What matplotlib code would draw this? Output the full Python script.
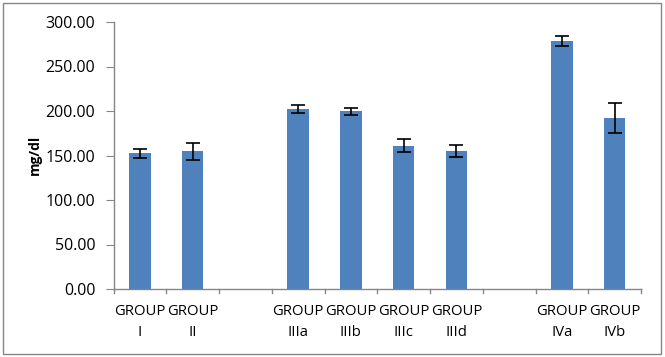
import matplotlib
matplotlib.use("Agg")
import matplotlib.pyplot as plt
from matplotlib.patches import Rectangle

categories = ["GROUP\nI", "GROUP\nII", "", "GROUP\nIIIa", "GROUP\nIIIb", "GROUP\nIIIc",
              "GROUP\nIIId", "", "GROUP\nIVa", "GROUP\nIVb"]
values = [152.5, 155.0, None, 202.2, 199.8, 160.7, 155.0, None, 278.7, 192.1]
errors = [5.3, 9.5, None, 5.0, 4.0, 7.3, 7.2, None, 5.6, 17.0]
yticks = [0, 50, 100, 150, 200, 250, 300]

W, H = 665, 357
fig = plt.figure(figsize=(W / 100, H / 100), dpi=100)
plt.rcParams['font.family'] = ['Open Sans', 'DejaVu Sans']

ax = fig.add_axes([113.5 / W, 1 - 289 / H, (641 - 113.5) / W, (289 - 22) / H])

xs = [i for i, v in enumerate(values) if v is not None]
vs = [values[i] for i in xs]
es = [errors[i] for i in xs]
ax.bar(xs, vs, width=0.41, color="#4F81BD", zorder=2)
ax.errorbar(xs, vs, yerr=es, fmt="none", ecolor="black", elinewidth=1.2,
            capsize=5, capthick=1.2, zorder=3)

ax.set_xlim(-0.5, len(categories) - 0.5)
ax.set_ylim(0, 300)
ax.set_yticks(yticks)
ax.set_yticklabels([f"{t:.2f}" for t in yticks], fontsize=11.5)
ax.set_xticks(range(len(categories)))
ax.set_xticklabels(categories, fontsize=10.7, linespacing=1.5)
ax.tick_params(axis="x", length=0, pad=11)
# boundary ticks
for b in range(len(categories) + 1):
    ax.plot([b - 0.5, b - 0.5], [0, -5], color="#868686", lw=1, clip_on=False, zorder=1)
ax.tick_params(axis="y", length=6, color="#868686", pad=7)

for s in ["top", "right"]:
    ax.spines[s].set_visible(False)
for s in ["left", "bottom"]:
    ax.spines[s].set_color("#868686")
    ax.spines[s].set_linewidth(1)

fig.text(35 / W, 1 - 155 / H, "mg/dl", rotation=90, fontsize=10, fontweight="bold",
         ha="center", va="center")

fig.patches.append(Rectangle((3 / W, 1 - 354 / H), (661 - 3) / W, (354 - 3) / H,
                             transform=fig.transFigure, fill=False,
                             edgecolor="#868686", lw=1))

fig.savefig("out.png", dpi=100)
